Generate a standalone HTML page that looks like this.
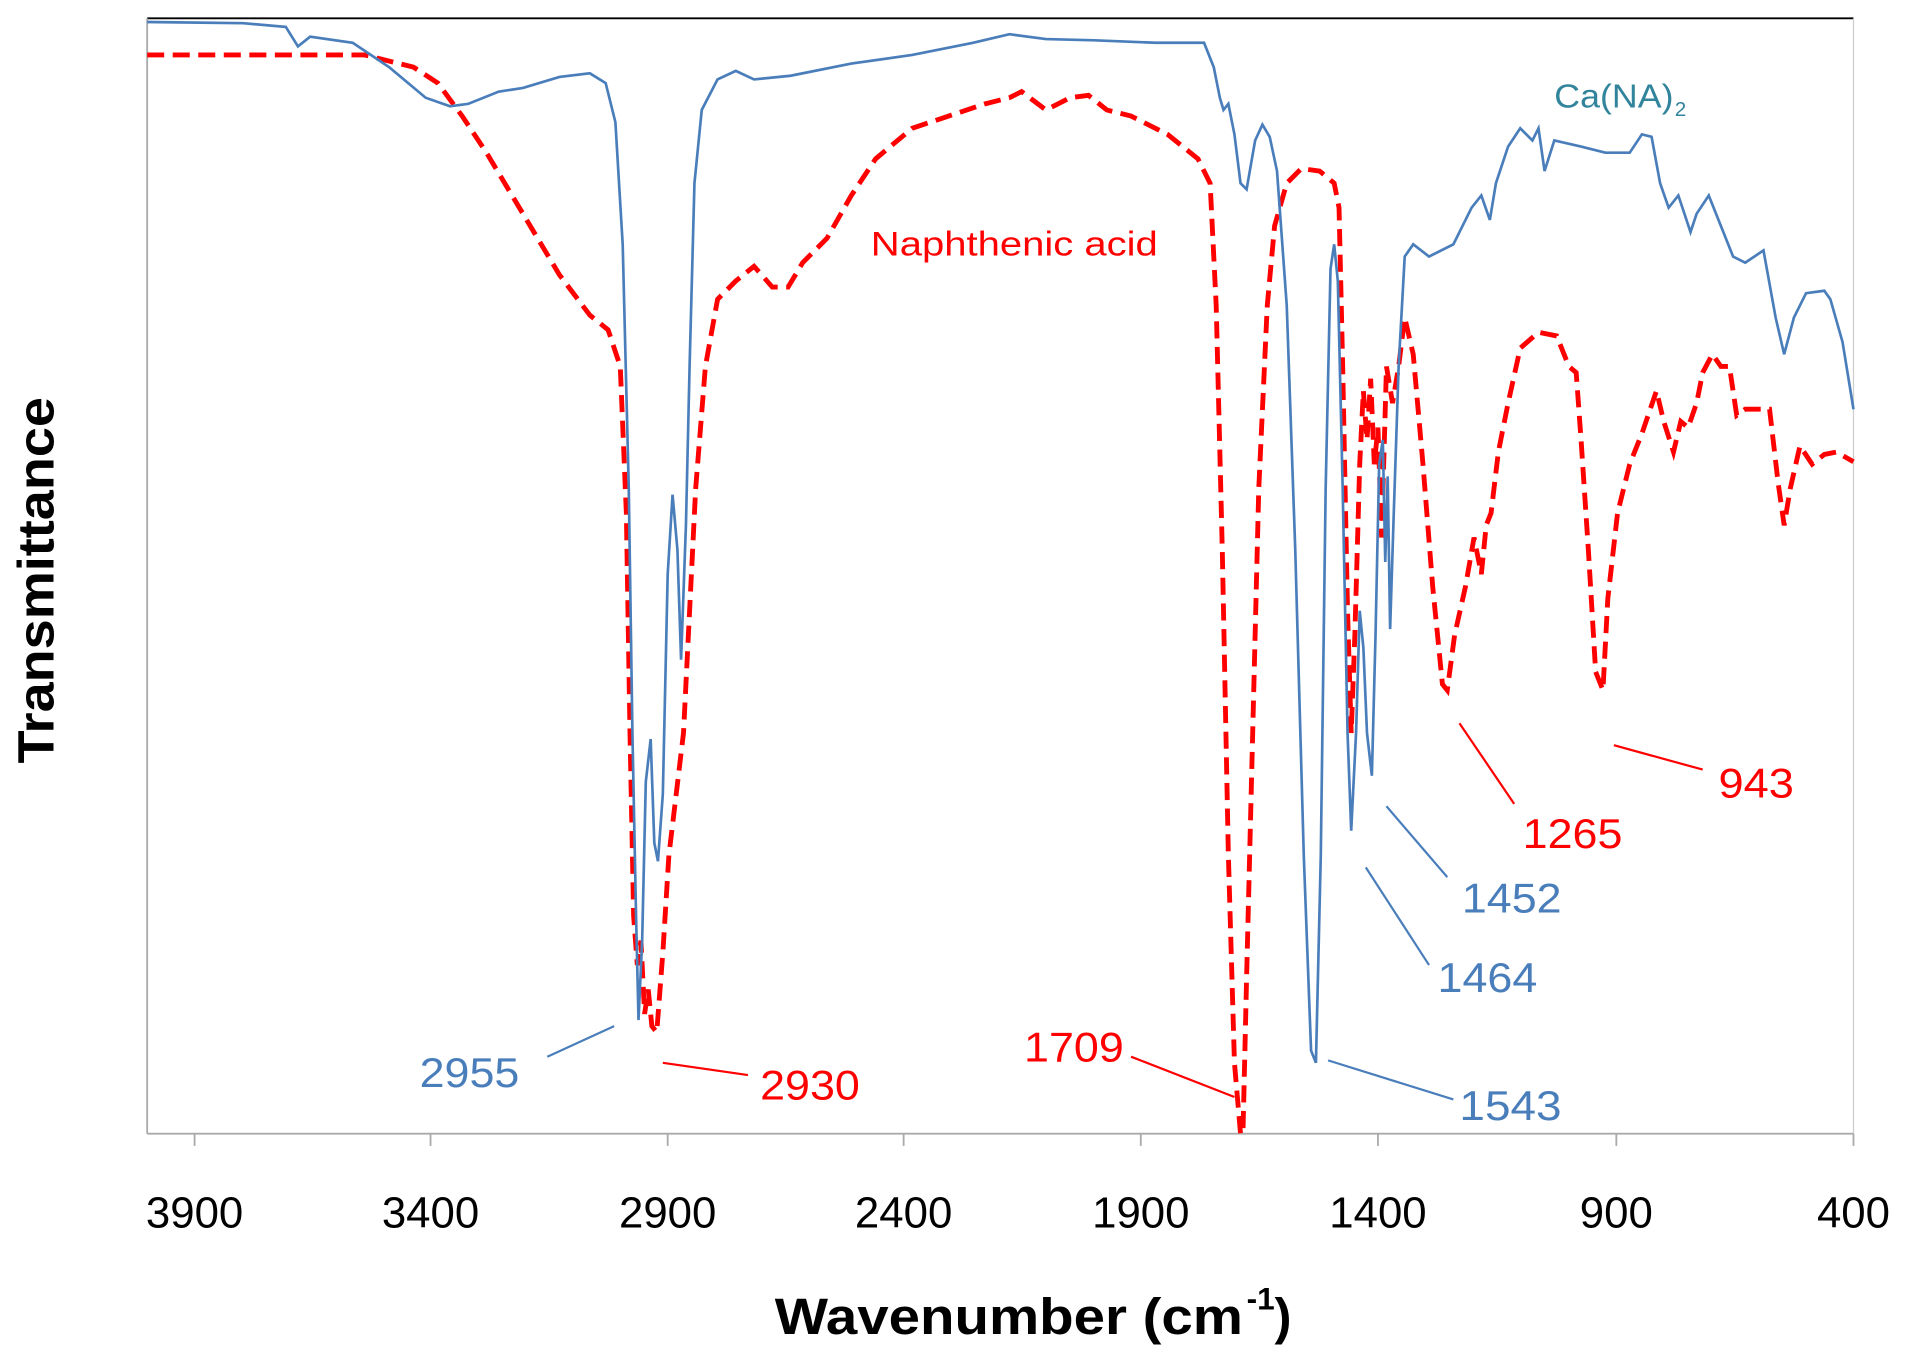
<!DOCTYPE html>
<html><head><meta charset="utf-8"><style>
html,body{margin:0;padding:0;background:#fff;width:1907px;height:1356px;overflow:hidden}
svg{display:block;font-family:"Liberation Sans",sans-serif}
</style></head><body>
<svg width="1907" height="1356" viewBox="0 0 1568 1110" preserveAspectRatio="none">
<rect width="1568" height="1110" fill="#fff"/>
<line x1="121" y1="15" x2="1524" y2="15" stroke="#000" stroke-width="1.5"/>
<line x1="121" y1="15" x2="121" y2="928" stroke="#aaa" stroke-width="1.5"/>
<line x1="1524" y1="15" x2="1524" y2="928" stroke="#ccc" stroke-width="1"/>
<line x1="121" y1="928" x2="1524" y2="928" stroke="#aaa" stroke-width="1.5"/>
<g stroke="#aaa" stroke-width="1.5">
<line x1="160" y1="928" x2="160" y2="938"/><line x1="354" y1="928" x2="354" y2="938"/><line x1="549" y1="928" x2="549" y2="938"/><line x1="743" y1="928" x2="743" y2="938"/><line x1="938" y1="928" x2="938" y2="938"/><line x1="1133" y1="928" x2="1133" y2="938"/><line x1="1329" y1="928" x2="1329" y2="938"/><line x1="1524" y1="928" x2="1524" y2="938"/>
</g>
<g font-size="36" fill="#000" text-anchor="middle">
<text x="160" y="1005">3900</text><text x="354" y="1005">3400</text><text x="549" y="1005">2900</text><text x="743" y="1005">2400</text><text x="938" y="1005">1900</text><text x="1133" y="1005">1400</text><text x="1329" y="1005">900</text><text x="1524" y="1005">400</text>
</g>
<text x="637" y="1092" font-size="42" font-weight="bold" textLength="385" lengthAdjust="spacingAndGlyphs">Wavenumber (cm</text>
<text x="1025" y="1072" font-size="26" font-weight="bold">-1</text>
<text x="1048" y="1092" font-size="42" font-weight="bold">)</text>
<text transform="translate(44,475) rotate(-90)" font-size="42" font-weight="bold" text-anchor="middle" textLength="300" lengthAdjust="spacingAndGlyphs">Transmittance</text>

<polyline fill="none" stroke="#ff0000" stroke-width="4" stroke-dasharray="14,7" points="121,45 300,45 340,55 360,68 380,95 400,125 430,175 460,225 485,258 500,270 510,300 515,420 518,600 521,750 524,790 527,770 530,830 533,810 536,840 540,845 545,780 550,700 556,650 562,600 567,500 572,400 580,300 590,245 605,230 620,218 635,235 648,235 660,215 680,195 700,160 720,130 750,105 780,95 810,85 830,80 840,75 860,90 880,80 895,78 910,90 930,95 960,110 985,130 995,150 1000,250 1005,450 1010,700 1015,870 1020,928 1022,928 1025,800 1030,600 1035,400 1042,250 1048,185 1058,150 1070,138 1085,140 1097,150 1101,170 1104,300 1108,500 1111,600 1114,520 1118,380 1121,320 1124,360 1127,310 1130,380 1133,350 1136,440 1140,300 1145,330 1150,300 1155,260 1162,290 1170,380 1178,480 1186,560 1190,565 1196,520 1205,480 1212,440 1218,470 1222,430 1226,420 1232,370 1240,330 1250,285 1265,272 1280,275 1290,300 1296,305 1300,360 1306,450 1312,550 1318,565 1322,490 1330,420 1340,380 1350,355 1362,320 1368,345 1376,370 1382,345 1388,350 1395,330 1400,305 1408,290 1415,300 1422,300 1428,340 1435,335 1445,335 1455,335 1462,395 1467,430 1472,400 1480,365 1490,380 1500,372 1510,370 1524,378"/>

<polyline fill="none" stroke="#4a7ebb" stroke-width="2.2" points="121,18 200,19 235,22 245,38 255,30 290,35 320,55 350,80 370,87 385,85 410,75 430,72 460,63 485,60 498,68 506,100 512,200 517,400 520,600 523,750 525,835 528,770 531,640 535,605 538,690 541,705 545,650 549,470 553,405 557,450 560,540 564,430 567,300 571,150 577,90 590,65 605,58 620,65 650,62 700,52 750,45 800,35 830,28 860,32 900,33 950,35 990,35 998,55 1003,80 1006,90 1010,85 1015,110 1020,150 1025,155 1032,115 1038,102 1044,112 1050,140 1058,250 1065,450 1072,700 1078,860 1082,870 1086,700 1090,400 1094,220 1097,200 1100,230 1104,400 1108,600 1111,680 1115,600 1118,500 1121,530 1124,600 1128,635 1131,520 1134,380 1137,360 1139,460 1141,390 1143,515 1146,420 1150,300 1155,210 1162,200 1175,210 1195,200 1210,170 1218,160 1225,180 1230,150 1240,120 1250,105 1260,115 1265,105 1270,140 1278,115 1300,120 1320,125 1340,125 1350,110 1358,112 1365,150 1372,170 1380,160 1390,190 1395,175 1405,160 1415,185 1425,210 1435,215 1450,205 1460,260 1467,290 1475,260 1485,240 1500,238 1505,245 1515,280 1524,335"/>

<text x="716" y="209" font-size="28" fill="#ff0000" textLength="236" lengthAdjust="spacingAndGlyphs">Naphthenic acid</text>
<text x="1278" y="88" font-size="27" fill="#31849b" textLength="98" lengthAdjust="spacingAndGlyphs">Ca(NA)</text>
<text x="1377" y="95" font-size="17" fill="#31849b">2</text>

<g stroke-width="1.8" fill="none">
<line x1="450" y1="865" x2="505" y2="840" stroke="#4a7ebb"/>
<line x1="545" y1="870" x2="615" y2="880" stroke="#ff0000"/>
<line x1="930" y1="865" x2="1015" y2="898" stroke="#ff0000"/>
<line x1="1092" y1="868" x2="1195" y2="900" stroke="#4a7ebb"/>
<line x1="1123" y1="710" x2="1175" y2="790" stroke="#4a7ebb"/>
<line x1="1140" y1="660" x2="1190" y2="718" stroke="#4a7ebb"/>
<line x1="1200" y1="592" x2="1245" y2="658" stroke="#ff0000"/>
<line x1="1327" y1="610" x2="1400" y2="630" stroke="#ff0000"/>
</g>
<g font-size="34">
<text x="345" y="890" fill="#4a7ebb" textLength="82" lengthAdjust="spacingAndGlyphs">2955</text>
<text x="625" y="900" fill="#ff0000" textLength="82" lengthAdjust="spacingAndGlyphs">2930</text>
<text x="842" y="869" fill="#ff0000" textLength="82" lengthAdjust="spacingAndGlyphs">1709</text>
<text x="1200" y="917" fill="#4a7ebb" textLength="84" lengthAdjust="spacingAndGlyphs">1543</text>
<text x="1182" y="812" fill="#4a7ebb" textLength="82" lengthAdjust="spacingAndGlyphs">1464</text>
<text x="1202" y="747" fill="#4a7ebb" textLength="82" lengthAdjust="spacingAndGlyphs">1452</text>
<text x="1252" y="694" fill="#ff0000" textLength="82" lengthAdjust="spacingAndGlyphs">1265</text>
<text x="1413" y="653" fill="#ff0000" textLength="62" lengthAdjust="spacingAndGlyphs">943</text>
</g>
</svg>
</body></html>
